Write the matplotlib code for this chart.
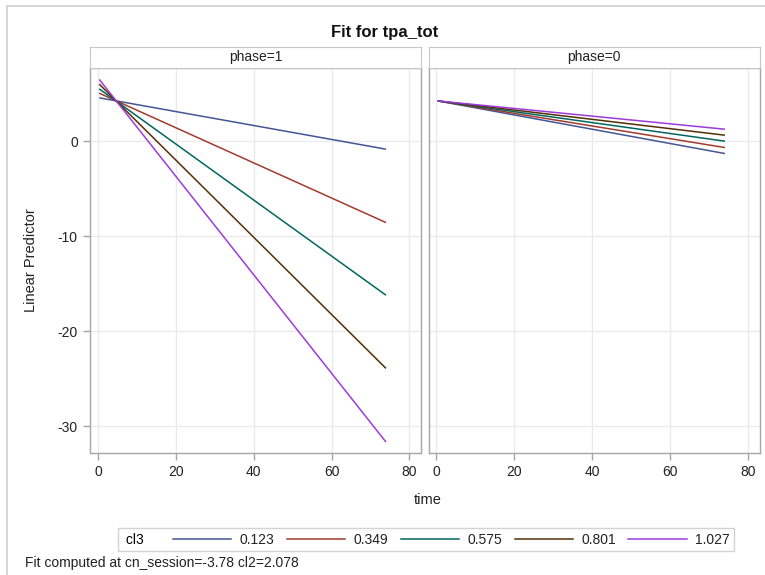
import matplotlib
matplotlib.use("Agg")
import matplotlib.pyplot as plt
from matplotlib.lines import Line2D
from matplotlib.patches import Rectangle
from matplotlib.offsetbox import DrawingArea

plt.rcParams['font.family'] = ['Liberation Sans', 'DejaVu Sans']
plt.rcParams['axes.unicode_minus'] = False

# ---- data ----
cl3_levels = ['0.123', '0.349', '0.575', '0.801', '1.027']
colors = ['#445694', '#A23A2E', '#01665E', '#543005', '#9D3CDB']
time_range = [0.3, 74.0]
phase_labels = ['phase=1', 'phase=0']
# linear predictor at start / end of time range, per phase, per cl3 level
phase1_start = [4.56, 5.05, 5.5, 6.0, 6.5]
phase1_end = [-0.84, -8.56, -16.2, -23.9, -31.65]
phase0_start = [4.24, 4.24, 4.24, 4.24, 4.24]
phase0_end = [-1.3, -0.67, 0.0, 0.63, 1.26]
x_ticks = [0, 20, 40, 60, 80]
y_ticks = [0, -10, -20, -30]

W, H = 765, 575
fig = plt.figure(figsize=(W / 100, H / 100), dpi=100)

def box(x0, y0, x1, y1):
    return [x0 / W, 1 - y1 / H, (x1 - x0) / W, (y1 - y0) / H]

# outer frame
fig.patches.append(Rectangle((7 / W, -0.1), 1.2, 1 - 6 / H + 0.1, transform=fig.transFigure,
                             fill=False, edgecolor='#CFCFCF', lw=1.2))

spine_col = '#A6A6A6'
panels = [(90.3, 421.0), (428.7, 760.0)]
data = [(phase1_start, phase1_end), (phase0_start, phase0_end)]
axes = []
for i, ((x0, x1), (st, en), plabel) in enumerate(zip(panels, data, phase_labels)):
    ax = fig.add_axes(box(x0, 68, x1, 453))
    for s, e, c in zip(st, en, colors):
        ax.plot(time_range, [s, e], color=c, lw=1.1, solid_capstyle='butt')
    ax.set_xlim(-2, 83)
    ax.set_ylim(-32.8, 7.7)
    ax.set_xticks(x_ticks)
    ax.set_yticks(y_ticks)
    ax.grid(True, color='#EBEBEB', lw=1.0)
    ax.set_axisbelow(True)
    for sp in ax.spines.values():
        sp.set_color(spine_col)
        sp.set_linewidth(1.0)
    ax.tick_params(axis='both', colors=spine_col, labelcolor='#222222', labelsize=10,
                   length=5, width=1.0, pad=4)
    if i > 0:
        ax.tick_params(axis='y', left=False, labelleft=False)
    axes.append(ax)
    # header strip
    hax = fig.add_axes(box(x0, 47, x1, 68))
    hax.set_xticks([]); hax.set_yticks([])
    for sp in hax.spines.values():
        sp.set_color('#C8C8C8')
    hax.text(0.5, 0.5, plabel, ha='center', va='center', fontsize=10, color='#222222',
             transform=hax.transAxes)

fig.text(385 / W, 1 - 32 / H, 'Fit for tpa_tot', ha='center', va='center',
         fontsize=12, fontweight='bold', color='#111111')
fig.text(428 / W, 1 - 500 / H, 'time', ha='center', va='center', fontsize=10.5, color='#222222')
fig.text(31 / W, 1 - 260 / H, 'Linear Predictor', ha='center', va='center', rotation=90,
         fontsize=10.5, color='#222222')
fig.text(25 / W, 1 - 563 / H, 'Fit computed at cn_session=-3.78 cl2=2.078', ha='left',
         va='center', fontsize=10, color='#222222')

# legend with title on the left
handles = [Line2D([], [], color=c, lw=1.1) for c in colors]
leg = fig.legend(handles, cl3_levels, ncol=5, title=' cl3', loc='center',
                 bbox_to_anchor=(426 / W, 1 - 539.5 / H), fontsize=10, title_fontsize=10,
                 frameon=True, fancybox=False, edgecolor='#C8C8C8', handlelength=4.2,
                 handletextpad=0.6, columnspacing=0.9, borderpad=0.3)
leg.get_frame().set_linewidth(1.0)
try:
    vp = leg._legend_box
    tb = leg._legend_title_box
    hb = leg._legend_handle_box
    vp._children = [hb]
    hb._children = [tb, DrawingArea(3, 1)] + list(hb._children)
except Exception:
    pass
for t in leg.get_texts():
    t.set_color('#222222')

fig.savefig('out.png', dpi=100)
